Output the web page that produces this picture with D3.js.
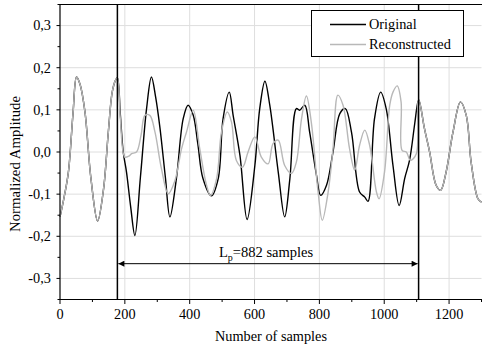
<!DOCTYPE html>
<html>
<head>
<meta charset="utf-8">
<script src="https://cdn.jsdelivr.net/npm/d3@7"></script>
<style>
  body { margin: 0; background: #fff; }
  svg { display: block; }
</style>
</head>
<body>
<div id="chart"></div>
<script>
// signal before the gap (both series identical)
var headSamples = [0, 12, 26, 40, 51, 62, 77, 95, 116, 134, 149, 161, 171, 177];
var headValues  = [-0.154, -0.11, -0.047, 0.09, 0.178, 0.16, 0.095, -0.06, -0.164, -0.09, 0.047, 0.142, 0.17, 0.176];

// signal after the gap (both series identical)
var tailSamples = [1104, 1107, 1124, 1140, 1160, 1174, 1191, 1212, 1235, 1253, 1268, 1289, 1300];
var tailValues  = [0.119, 0.123, 0.056, 0.0, -0.079, -0.091, -0.047, 0.047, 0.119, 0.087, -0.024, -0.111, -0.119];

// original inside the gap
var origSamples = [186, 195, 205, 218, 231, 248, 267, 282, 295, 308, 325, 339, 359, 380, 395, 411, 425, 441, 467, 488, 503, 522, 534, 555, 577, 601, 616, 632, 647, 673, 693, 709, 729, 739, 755, 770, 791, 804, 822, 842, 863, 880, 899, 924, 940, 950, 970, 989, 1006, 1027, 1046, 1063, 1078, 1094];
var origValues  = [0.09, 0.0, -0.047, -0.13, -0.198, -0.06, 0.103, 0.178, 0.13, 0.059, -0.06, -0.154, -0.063, 0.079, 0.111, 0.087, 0.02, -0.063, -0.104, -0.063, 0.079, 0.142, 0.087, -0.008, -0.16, -0.032, 0.103, 0.168, 0.111, -0.047, -0.154, -0.063, 0.103, 0.099, 0.111, 0.047, -0.055, -0.103, -0.079, 0.0, 0.091, 0.103, 0.047, -0.095, -0.107, -0.117, 0.079, 0.142, 0.103, -0.032, -0.127, -0.063, -0.02, 0.067];

// reconstruction inside the gap
var reconSamples = [186, 200, 212, 221, 236, 250, 262, 277, 293, 313, 334, 354, 375, 390, 411, 431, 452, 464, 483, 498, 516, 529, 544, 563, 580, 601, 621, 642, 657, 673, 693, 714, 729, 745, 760, 775, 796, 809, 827, 842, 857, 873, 893, 909, 924, 940, 955, 976, 984, 1001, 1017, 1027, 1040, 1052, 1055, 1068, 1081, 1099];
var reconValues  = [0.08, -0.012, -0.01, -0.004, 0.0, 0.04, 0.087, 0.087, 0.047, -0.04, -0.099, -0.069, 0.008, 0.047, 0.099, 0.008, -0.079, -0.103, -0.063, 0.047, 0.095, 0.071, -0.02, -0.036, 0.0, 0.036, -0.012, -0.028, 0.02, 0.028, -0.032, -0.051, -0.024, 0.079, 0.133, 0.071, -0.095, -0.162, -0.095, 0.008, 0.135, 0.111, 0.008, -0.043, 0.016, 0.052, 0.016, -0.095, -0.111, -0.047, 0.111, 0.142, 0.157, 0.119, 0.004, 0.0, -0.02, -0.004];

var gapStart = 177, gapEnd = 1106, gapLabel = "882 samples";
var xTicks = [0, 200, 400, 600, 800, 1000, 1200];
var yTicks = [-0.3, -0.2, -0.1, 0.0, 0.1, 0.2, 0.3];
var seriesNames = ["Original", "Reconstructed"];

function pairs(xs, ys) { return xs.map(function(x, i){ return [x, ys[i]]; }); }

var original = pairs(headSamples, headValues)
    .concat(pairs(origSamples, origValues))
    .concat(pairs(tailSamples, tailValues));
var reconstructed = pairs(headSamples, headValues)
    .concat(pairs(reconSamples, reconValues))
    .concat(pairs(tailSamples, tailValues));

var W = 482, H = 349;
var margin = {top: 4.5, right: 0.5, bottom: 49.5, left: 60};

var svg = d3.select("#chart").append("svg").attr("width", W).attr("height", H)
    .attr("font-family", "'Liberation Serif', Tinos, 'Times New Roman', 'DejaVu Serif', serif")
    .attr("font-size", 14.3);

var x = d3.scaleLinear().domain([0, 1300]).range([margin.left, W - margin.right]);
var y = d3.scaleLinear().domain([-0.35, 0.35]).range([H - margin.bottom, margin.top]);
var fmt = function(d){ return d3.format(".1f")(d).replace(".", ",").replace("−", "-"); };

// grid
svg.append("g").selectAll("line").data(xTicks.filter(function(d){ return d > 0; })).enter().append("line")
    .attr("x1", function(d){ return x(d); }).attr("x2", function(d){ return x(d); })
    .attr("y1", y(0.35)).attr("y2", y(-0.35))
    .attr("stroke", "#dedede").attr("stroke-width", 1);
svg.append("g").selectAll("line").data(yTicks).enter().append("line")
    .attr("x1", x(0)).attr("x2", x(1300))
    .attr("y1", function(d){ return y(d); }).attr("y2", function(d){ return y(d); })
    .attr("stroke", "#dedede").attr("stroke-width", 1);

// curves
var line = d3.line()
    .x(function(d){ return x(d[0]); })
    .y(function(d){ return y(d[1]); })
    .curve(d3.curveCatmullRom.alpha(0.5));

svg.append("path").datum(original)
    .attr("d", line).attr("fill", "none")
    .attr("stroke", "#000").attr("stroke-width", 1.4);
svg.append("path").datum(reconstructed)
    .attr("d", line).attr("fill", "none")
    .attr("stroke", "#b8b8b8").attr("stroke-width", 1.4);

// gap markers
svg.append("g").selectAll("line").data([gapStart, gapEnd]).enter().append("line")
    .attr("x1", function(d){ return x(d); }).attr("x2", function(d){ return x(d); })
    .attr("y1", y(0.35)).attr("y2", y(-0.35))
    .attr("stroke", "#000").attr("stroke-width", 1.5);

// arrow
var defs = svg.append("defs");
defs.append("marker").attr("id", "arr").attr("viewBox", "0 0 10 10")
    .attr("refX", 10).attr("refY", 5).attr("markerWidth", 9).attr("markerHeight", 6)
    .attr("markerUnits", "userSpaceOnUse").attr("orient", "auto-start-reverse")
  .append("path").attr("d", "M0,0L10,5L0,10z").attr("fill", "#000");

var ay = y(-0.265);
svg.append("line")
    .attr("x1", x(gapStart) + 1).attr("x2", x(gapEnd) - 1)
    .attr("y1", ay).attr("y2", ay)
    .attr("stroke", "#000").attr("stroke-width", 1)
    .attr("marker-start", "url(#arr)").attr("marker-end", "url(#arr)");

var lab = svg.append("text").attr("x", 219).attr("y", ay - 7).attr("font-size", 14.5);
lab.append("tspan").text("L");
lab.append("tspan").attr("dy", 4).attr("font-size", 10).text("p");
lab.append("tspan").attr("dy", -4).text("=" + gapLabel);

// axes
var xAxis = svg.append("g").attr("transform", "translate(0," + y(-0.35) + ")");
xAxis.append("line").attr("x1", x(0)).attr("x2", W).attr("stroke", "#000").attr("stroke-width", 1.2);
xAxis.selectAll(".minor").data(d3.range(100, 1301, 200)).enter().append("line")
    .attr("x1", function(d){ return x(d); }).attr("x2", function(d){ return x(d); })
    .attr("y1", 0).attr("y2", 2.5).attr("stroke", "#000");
xAxis.selectAll(".major").data(xTicks).enter().append("line")
    .attr("x1", function(d){ return x(d); }).attr("x2", function(d){ return x(d); })
    .attr("y1", 0).attr("y2", 4.5).attr("stroke", "#000");
xAxis.selectAll("text").data(xTicks).enter().append("text")
    .attr("x", function(d){ return x(d); }).attr("y", 19.5)
    .attr("text-anchor", "middle").text(function(d){ return d; });

var yAxis = svg.append("g").attr("transform", "translate(" + x(0) + ",0)");
yAxis.append("line").attr("y1", y(0.35)).attr("y2", y(-0.35)).attr("stroke", "#000").attr("stroke-width", 1.2);
yAxis.selectAll(".minor").data(d3.range(-0.35, 0.36, 0.1)).enter().append("line")
    .attr("y1", function(d){ return y(d); }).attr("y2", function(d){ return y(d); })
    .attr("x1", 0).attr("x2", -2.5).attr("stroke", "#000");
yAxis.selectAll(".major").data(yTicks).enter().append("line")
    .attr("y1", function(d){ return y(d); }).attr("y2", function(d){ return y(d); })
    .attr("x1", 0).attr("x2", -3.5).attr("stroke", "#000");
yAxis.selectAll("text").data(yTicks).enter().append("text")
    .attr("x", -9).attr("y", function(d){ return y(d) + 4.8; })
    .attr("text-anchor", "end").text(fmt);

// top border
svg.append("line").attr("x1", x(0)).attr("x2", W).attr("y1", y(0.35)).attr("y2", y(0.35))
    .attr("stroke", "#000").attr("stroke-width", 1.2);

// titles
svg.append("text").attr("x", 271).attr("y", 341).attr("text-anchor", "middle").text("Number of samples");
svg.append("text").attr("transform", "translate(20,164) rotate(-90)")
    .attr("text-anchor", "middle").attr("font-size", 14.8).text("Normalized Amplitude");

// legend
var lg = svg.append("g");
lg.append("rect").attr("x", 311.5).attr("y", 10.5).attr("width", 152).attr("height", 46)
    .attr("fill", "#fff").attr("stroke", "#000").attr("stroke-width", 1);
var colors = ["#000", "#b8b8b8"];
seriesNames.forEach(function(n, i){
    var ly = 24.5 + i * 20;
    lg.append("line").attr("x1", 330).attr("x2", 366).attr("y1", ly).attr("y2", ly)
        .attr("stroke", colors[i]).attr("stroke-width", 1.4);
    lg.append("text").attr("x", 369).attr("y", ly + 4.8).text(n);
});
</script>
</body>
</html>
